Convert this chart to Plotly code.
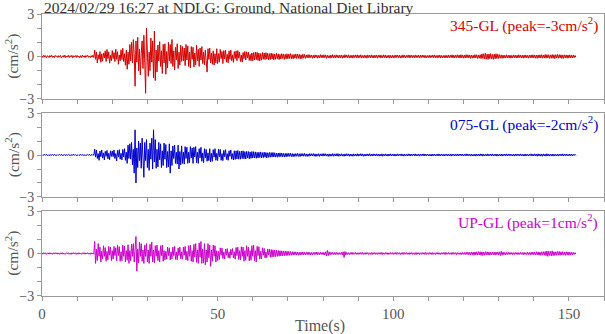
import plotly.graph_objects as go

DT = 0.25  # sampling interval (s)

ns_345 = [
 0.04,-0.07,0.09,-0.03,0.06,-0.1,0.05,0.02,-0.08,0.07,-0.04,0.09,-0.06,0.03,-0.09,0.08,-0.02,0.05,-0.07,0.06,
 -0.05,0.08,-0.09,0.04,0.07,-0.06,0.1,-0.08,0.03,-0.05,0.09,-0.07,0.06,-0.03,0.08,-0.1,0.05,-0.04,0.07,-0.06,
 0.08,-0.05,0.03,-0.09,0.06,-0.07,0.1,-0.04,0.05,-0.08,0.07,-0.02,0.09,-0.06,0.04,-0.08,0.06,-0.05,0.09,-0.07,
 0.45,-0.2,0.3,-0.46,0.12,-0.2,0.35,-0.41,0.18,-0.33,0.25,-0.1,0.4,-0.36,0.5,-0.15,0.33,-0.47,0.08,-0.3,
 0.42,-0.15,0.28,-0.36,0.52,-0.2,0.34,-0.55,0.1,-0.3,0.47,-0.22,0.58,-0.35,0.2,-0.62,0.45,-0.9,0.3,-0.55,
 0.85,-0.3,1.0,-0.45,1.2,0.2,-2.1,1.1,-0.4,1.35,-1.0,0.5,-1.3,0.2,1.1,-0.85,1.5,-0.4,-2.6,2.0,
 0.6,-1.4,0.3,-1.0,1.3,-0.4,1.1,-1.5,1.8,-1.7,0.45,-1.1,0.8,-0.3,1.05,-0.7,0.4,-1.2,0.85,-0.45,
 0.9,-1.25,0.35,-0.8,1.0,-0.3,0.85,-0.5,1.2,-0.7,0.4,-0.95,0.65,-0.25,0.9,-0.85,0.3,-0.6,0.8,-0.35,
 0.7,-0.3,0.6,-0.65,0.85,-0.25,0.75,-0.7,0.3,-0.8,0.7,-0.2,0.65,-0.75,0.25,-0.6,0.8,-0.3,0.5,-0.7,
 0.6,-0.25,0.7,-0.5,0.3,-0.6,0.45,-0.7,-1.1,0.55,-0.2,0.6,-0.45,0.25,-0.55,0.4,-0.6,0.2,-0.45,0.55,
 -0.5,0.2,-0.4,0.5,-0.15,0.35,-0.5,0.42,-0.18,0.45,-0.4,0.15,-0.45,0.4,-0.2,0.45,-0.3,0.12,-0.42,0.35,
 -0.15,0.4,-0.3,0.42,-0.12,0.3,-0.35,0.1,-0.4,0.28,-0.15,0.36,-0.25,0.33,-0.1,0.3,-0.28,0.15,-0.3,0.25,
 -0.3,0.28,-0.25,0.32,-0.22,0.3,-0.28,0.24,-0.3,0.2,-0.26,0.28,-0.2,0.25,-0.22,0.27,-0.18,0.24,-0.25,0.2,
 -0.22,0.25,-0.18,0.2,-0.24,0.17,-0.2,0.22,-0.16,0.19,-0.22,0.15,-0.18,0.2,-0.14,0.18,-0.2,0.15,-0.17,0.19,
 -0.16,0.18,-0.14,0.2,-0.15,0.13,-0.17,0.15,-0.12,0.18,-0.14,0.16,-0.13,0.15,-0.17,0.12,-0.14,0.16,-0.12,0.14,
 -0.13,0.11,-0.09,0.14,-0.1,0.12,-0.08,0.1,-0.13,0.09,-0.11,0.12,-0.07,0.1,-0.12,0.08,-0.1,0.13,-0.09,0.11,
 -0.1,0.12,-0.08,0.11,-0.13,0.09,-0.1,0.07,-0.12,0.1,-0.09,0.13,-0.11,0.08,-0.1,0.12,-0.08,0.09,-0.11,0.1,
 -0.09,0.11,-0.12,0.08,-0.1,0.13,-0.07,0.1,-0.09,0.12,-0.11,0.08,-0.1,0.09,-0.12,0.1,-0.08,0.11,-0.09,0.12,
 -0.11,0.09,-0.08,0.12,-0.1,0.07,-0.11,0.1,-0.09,0.08,-0.12,0.11,-0.07,0.09,-0.1,0.12,-0.09,0.08,-0.11,0.1,
 -0.08,0.1,-0.12,0.09,-0.07,0.11,-0.1,0.08,-0.09,0.12,-0.08,0.1,-0.11,0.07,-0.09,0.1,-0.12,0.08,-0.1,0.09,
 -0.1,0.08,-0.09,0.11,-0.07,0.1,-0.08,0.09,-0.11,0.07,-0.1,0.12,-0.08,0.09,-0.1,0.08,-0.07,0.11,-0.09,0.1,
 -0.09,0.1,-0.08,0.07,-0.1,0.11,-0.09,0.08,-0.07,0.1,-0.11,0.09,-0.08,0.1,-0.07,0.09,-0.1,0.08,-0.09,0.07,
 -0.08,0.09,-0.1,0.08,-0.07,0.1,-0.09,0.11,-0.08,0.07,-0.1,0.09,-0.08,0.1,-0.11,0.08,-0.09,0.07,-0.1,0.09,
 -0.1,0.08,-0.09,0.11,-0.1,0.09,-0.08,0.12,-0.1,0.09,-0.11,0.1,-0.08,0.12,-0.09,0.1,-0.11,0.13,-0.1,0.11,
 -0.12,0.1,-0.11,0.13,-0.09,0.12,-0.1,0.11,-0.13,0.1,-0.12,0.09,-0.11,0.13,-0.1,0.12,-0.14,0.11,-0.12,0.13,
 -0.15,0.18,-0.14,0.2,-0.17,0.22,-0.19,0.16,-0.21,0.18,-0.15,0.2,-0.18,0.14,-0.2,0.17,-0.16,0.19,-0.14,0.16,
 -0.14,0.13,-0.12,0.11,-0.13,0.1,-0.12,0.09,-0.11,0.12,-0.1,0.09,-0.11,0.1,-0.12,0.08,-0.1,0.11,-0.09,0.1,
 -0.11,0.09,-0.1,0.12,-0.08,0.1,-0.11,0.09,-0.12,0.1,-0.09,0.11,-0.1,0.08,-0.12,0.1,-0.09,0.11,-0.1,0.12,
 -0.1,0.11,-0.12,0.1,-0.13,0.11,-0.1,0.12,-0.11,0.13,-0.12,0.1,-0.11,0.14,-0.12,0.13,-0.1,0.12,-0.13,0.11,
 -0.12,0.14,-0.13,0.12,-0.15,0.13,-0.11,0.14,-0.12,0.13,-0.1,0.12,-0.14,0.11,-0.13,0.12,-0.1,0.11,-0.12,0.1,
 -0.11,0.12,-0.1,0.09,-0.11,0.1,-0.08,0.07,-0.05,
]

ew_075 = [
 0.03,-0.04,0.02,0.04,-0.03,0.05,-0.02,-0.04,0.03,-0.05,0.04,-0.02,0.03,-0.04,0.05,-0.03,0.02,-0.04,0.03,-0.02,
 0.04,-0.03,0.05,-0.04,0.02,-0.03,0.04,-0.05,0.03,-0.02,0.04,-0.03,0.02,-0.05,0.04,-0.03,0.05,-0.02,0.03,-0.04,
 0.02,-0.04,0.03,-0.03,0.05,-0.02,0.04,-0.04,0.03,-0.05,0.02,-0.03,0.04,-0.02,0.05,-0.04,0.03,-0.03,0.04,-0.02,
 0.42,-0.15,0.35,-0.25,0.1,-0.38,0.28,-0.12,0.36,-0.22,0.15,-0.35,0.26,-0.1,0.33,-0.28,0.12,-0.34,0.3,-0.1,
 0.28,-0.12,0.36,-0.25,0.1,-0.42,0.33,-0.15,0.38,-0.3,0.12,-0.35,0.4,-0.15,0.45,-0.38,0.2,-0.6,0.7,-0.25,
 0.8,-0.3,0.9,-0.7,0.4,-1.3,1.8,-2.0,0.5,-0.9,1.0,-0.4,0.85,-0.95,1.2,-0.3,-1.6,0.9,-0.4,1.1,
 -0.9,0.4,-1.1,0.85,-0.3,1.2,-1.0,1.8,-0.5,1.1,-0.95,0.4,-0.85,0.9,-0.35,0.8,-0.9,0.3,-0.75,0.85,
 -0.3,0.75,-0.9,0.25,-0.85,0.8,-1.3,0.3,-0.75,0.65,-0.25,0.7,-0.6,0.2,-0.65,0.7,-1.0,0.25,-0.7,0.65,
 -0.6,0.2,-0.65,0.6,-0.25,0.55,-0.6,0.2,-0.55,0.6,-0.2,0.5,-0.6,0.55,-0.15,0.6,-0.55,0.2,-0.6,0.45,
 -0.2,0.55,-0.45,0.15,-0.55,0.45,-0.2,0.4,-0.45,0.15,-0.4,0.45,-0.5,0.12,-0.45,0.38,-0.15,0.45,-0.38,0.12,
 -0.4,0.42,-0.12,0.4,-0.38,0.1,-0.4,0.33,-0.12,0.38,-0.32,0.1,-0.38,0.3,-0.1,0.36,-0.3,0.1,-0.35,0.3,
 -0.32,0.3,-0.28,0.32,-0.3,0.26,-0.3,0.28,-0.25,0.3,-0.27,0.24,-0.28,0.26,-0.22,0.25,-0.27,0.22,-0.24,0.25,
 -0.22,0.24,-0.2,0.22,-0.23,0.19,-0.21,0.2,-0.18,0.22,-0.2,0.17,-0.19,0.2,-0.16,0.18,-0.2,0.16,-0.17,0.18,
 -0.16,0.17,-0.15,0.18,-0.14,0.16,-0.15,0.13,-0.16,0.14,-0.13,0.15,-0.12,0.14,-0.13,0.12,-0.14,0.11,-0.13,0.12,
 -0.11,0.12,-0.1,0.12,-0.11,0.1,-0.12,0.09,-0.11,0.1,-0.09,0.11,-0.1,0.09,-0.11,0.1,-0.08,0.1,-0.09,0.11,
 -0.09,0.08,-0.1,0.07,-0.09,0.1,-0.08,0.09,-0.07,0.1,-0.09,0.08,-0.1,0.07,-0.08,0.09,-0.1,0.08,-0.07,0.09,
 -0.08,0.1,-0.07,0.09,-0.08,0.07,-0.1,0.08,-0.09,0.07,-0.08,0.1,-0.09,0.08,-0.07,0.09,-0.08,0.1,-0.09,0.07,
 -0.07,0.09,-0.08,0.06,-0.09,0.08,-0.07,0.09,-0.06,0.08,-0.09,0.07,-0.08,0.06,-0.09,0.08,-0.07,0.06,-0.08,0.09,
 -0.08,0.07,-0.06,0.09,-0.07,0.08,-0.09,0.06,-0.08,0.07,-0.06,0.08,-0.07,0.09,-0.08,0.06,-0.07,0.08,-0.06,0.07,
 -0.07,0.08,-0.06,0.07,-0.08,0.06,-0.07,0.08,-0.09,0.07,-0.06,0.08,-0.07,0.06,-0.08,0.07,-0.06,0.08,-0.07,0.06,
 -0.06,0.07,-0.08,0.06,-0.07,0.08,-0.06,0.07,-0.05,0.08,-0.07,0.06,-0.08,0.07,-0.06,0.05,-0.07,0.08,-0.06,0.07,
 -0.07,0.06,-0.05,0.07,-0.06,0.08,-0.07,0.05,-0.06,0.07,-0.08,0.06,-0.05,0.07,-0.06,0.08,-0.07,0.06,-0.05,0.07,
 -0.06,0.05,-0.07,0.06,-0.08,0.07,-0.05,0.06,-0.07,0.05,-0.06,0.08,-0.07,0.06,-0.05,0.07,-0.06,0.05,-0.07,0.06,
 -0.05,0.07,-0.06,0.05,-0.07,0.06,-0.08,0.07,-0.05,0.06,-0.07,0.05,-0.06,0.08,-0.07,0.06,-0.05,0.07,-0.06,0.05,
 -0.07,0.06,-0.05,0.08,-0.06,0.07,-0.05,0.06,-0.08,0.07,-0.06,0.05,-0.07,0.06,-0.08,0.07,-0.06,0.05,-0.07,0.08,
 -0.06,0.07,-0.08,0.06,-0.07,0.05,-0.06,0.08,-0.07,0.06,-0.05,0.07,-0.06,0.08,-0.07,0.05,-0.06,0.07,-0.08,0.06,
 -0.07,0.05,-0.06,0.07,-0.08,0.06,-0.05,0.07,-0.06,0.08,-0.07,0.06,-0.05,0.07,-0.06,0.05,-0.07,0.06,-0.08,0.07,
 -0.06,0.07,-0.05,0.06,-0.07,0.08,-0.06,0.05,-0.07,0.06,-0.08,0.07,-0.06,0.05,-0.07,0.06,-0.05,0.08,-0.07,0.06,
 -0.07,0.08,-0.06,0.07,-0.09,0.08,-0.07,0.06,-0.08,0.07,-0.09,0.08,-0.07,0.06,-0.08,0.09,-0.07,0.06,-0.08,0.07,
 -0.06,0.07,-0.08,0.06,-0.07,0.05,-0.06,0.07,-0.08,0.06,-0.05,0.07,-0.06,0.08,-0.07,0.06,-0.05,0.07,-0.06,0.05,
 -0.06,0.07,-0.05,0.06,-0.07,0.05,-0.04,0.05,-0.03,
]

up_gl = [
 0.04,-0.05,0.06,-0.03,0.05,-0.06,0.02,0.04,-0.05,0.06,-0.04,0.03,-0.06,0.05,-0.04,0.06,-0.03,0.05,-0.05,0.04,
 -0.06,0.05,-0.04,0.06,-0.05,0.03,-0.06,0.04,0.05,-0.04,0.06,-0.05,0.03,-0.06,0.05,-0.04,0.06,-0.03,0.05,-0.06,
 0.04,-0.05,0.06,-0.04,0.03,-0.06,0.05,-0.04,0.06,-0.05,0.04,-0.03,0.06,-0.05,0.04,-0.06,0.05,-0.04,0.03,-0.05,
 0.85,-0.7,0.3,-0.5,0.7,-0.2,0.45,-0.6,0.15,-0.4,0.55,-0.2,0.42,-0.55,0.15,-0.45,0.5,-0.12,0.45,-0.5,
 0.2,-0.4,0.5,-0.15,0.4,-0.52,0.58,-0.15,0.48,-0.55,0.12,-0.5,0.6,-0.2,0.52,-0.6,0.2,-0.48,0.62,-0.7,
 0.2,-0.5,0.65,-0.2,0.7,-0.6,0.2,1.2,-1.25,0.3,-0.65,0.8,-0.2,0.7,-0.55,0.25,-0.7,0.6,-0.2,0.7,
 -0.6,0.25,-0.7,0.65,-0.2,0.8,-0.6,0.25,-0.65,0.55,-0.2,0.6,-0.5,0.2,-0.6,0.55,-0.15,0.6,-0.55,0.2,
 -0.45,0.15,-0.4,0.45,-0.15,0.4,-0.45,0.12,-0.38,0.45,-0.15,0.5,-0.42,0.12,-0.45,0.38,-0.15,0.45,-0.38,0.12,
 -0.4,0.45,-0.12,0.5,-0.45,0.15,-0.5,0.55,-0.2,0.6,-0.55,0.2,-0.6,0.65,-0.25,0.7,-0.62,0.25,-0.7,0.75,
 -0.25,0.85,-0.7,0.3,-0.65,0.7,-0.8,0.25,-0.6,0.7,-0.3,0.6,-0.9,0.25,-0.55,0.6,-0.2,0.55,-0.6,0.2,
 -0.5,0.15,-0.42,0.4,-0.12,0.38,-0.35,0.1,-0.38,0.32,-0.12,0.35,-0.3,0.1,-0.34,0.3,-0.1,0.35,-0.32,0.12,
 -0.4,0.42,-0.15,0.45,-0.42,0.2,-0.45,0.48,-0.2,0.45,-0.55,0.2,-0.48,0.55,-0.2,0.45,-0.52,0.2,-0.48,0.55,
 -0.2,0.6,-0.5,0.2,-0.6,0.5,-0.15,0.48,-0.4,0.15,-0.38,0.4,-0.12,0.36,-0.32,0.1,-0.3,0.32,-0.1,0.3,
 -0.27,0.28,-0.25,0.26,-0.23,0.24,-0.22,0.23,-0.2,0.21,-0.19,0.2,-0.18,0.19,-0.17,0.18,-0.16,0.17,-0.15,0.16,
 -0.14,0.15,-0.13,0.14,-0.12,0.13,-0.11,0.12,-0.1,0.12,-0.11,0.1,-0.12,0.09,-0.11,0.1,-0.09,0.11,-0.1,0.09,
 -0.1,0.09,-0.08,0.1,-0.09,0.08,-0.1,0.07,-0.09,0.08,-0.07,0.09,-0.08,0.1,-0.09,0.07,-0.08,0.09,-0.07,0.08,
 -0.09,0.08,-0.1,0.12,-0.18,0.22,-0.15,0.12,-0.09,0.08,-0.07,0.09,-0.08,0.07,-0.09,0.08,-0.07,0.06,-0.08,0.07,
 -0.06,0.08,-0.1,0.12,-0.28,0.14,-0.1,0.08,-0.07,0.06,-0.08,0.07,-0.06,0.08,-0.07,0.06,-0.05,0.07,-0.06,0.05,
 -0.07,0.06,-0.05,0.07,-0.06,0.08,-0.07,0.05,-0.06,0.07,-0.05,0.06,-0.07,0.05,-0.06,0.07,-0.08,0.06,-0.05,0.07,
 -0.06,0.05,-0.07,0.06,-0.05,0.07,-0.06,0.08,-0.07,0.05,-0.06,0.07,-0.05,0.06,-0.07,0.05,-0.06,0.07,-0.05,0.06,
 -0.07,0.06,-0.05,0.08,-0.06,0.07,-0.05,0.06,-0.07,0.05,-0.06,0.08,-0.07,0.06,-0.05,0.07,-0.06,0.05,-0.07,0.06,
 -0.05,0.07,-0.06,0.05,-0.07,0.06,-0.08,0.07,-0.05,0.06,-0.07,0.05,-0.06,0.07,-0.05,0.06,-0.07,0.08,-0.06,0.05,
 -0.06,0.07,-0.05,0.06,-0.08,0.07,-0.06,0.05,-0.07,0.06,-0.05,0.07,-0.06,0.05,-0.07,0.06,-0.05,0.07,-0.06,0.08,
 -0.07,0.06,-0.05,0.07,-0.06,0.05,-0.07,0.08,-0.06,0.07,-0.05,0.06,-0.08,0.07,-0.06,0.05,-0.07,0.06,-0.08,0.07,
 -0.06,0.07,-0.08,0.09,-0.07,0.1,-0.09,0.08,-0.1,0.11,-0.09,0.1,-0.12,0.11,-0.1,0.12,-0.11,0.13,-0.1,0.12,
 -0.13,0.12,-0.14,0.11,-0.12,0.13,-0.1,0.12,-0.11,0.1,-0.12,0.09,-0.1,0.11,-0.09,0.1,-0.12,0.1,-0.09,0.11,
 -0.1,0.12,-0.14,0.15,-0.12,0.1,-0.09,0.08,-0.1,0.07,-0.08,0.09,-0.07,0.08,-0.06,0.07,-0.08,0.06,-0.07,0.08,
 -0.06,0.07,-0.08,0.06,-0.07,0.08,-0.06,0.07,-0.09,0.08,-0.07,0.06,-0.08,0.09,-0.07,0.08,-0.1,0.09,-0.08,0.1,
 -0.09,0.1,-0.11,0.12,-0.1,0.11,-0.12,0.1,-0.13,0.12,-0.11,0.13,-0.12,0.14,-0.16,0.18,-0.2,0.16,-0.14,0.15,
 -0.17,0.19,-0.15,0.13,-0.14,0.12,-0.13,0.15,-0.12,0.14,-0.13,0.12,-0.11,0.13,-0.12,0.11,-0.13,0.12,-0.1,0.11,
 -0.12,0.1,-0.11,0.09,-0.1,0.08,-0.07,0.06,-0.04,
]

series = [ns_345, ew_075, up_gl]
labels = ["345-GL (peak=-3cm/s<sup>2</sup>)", "075-GL (peak=-2cm/s<sup>2</sup>)", "UP-GL (peak=1cm/s<sup>2</sup>)"]
colors = ["#d40000", "#0000cc", "#cc00cc"]
title = "2024/02/29 16:27 at NDLG: Ground, National Diet Library"
y_title = "(cm/s<sup>2</sup>)"
x_title = "Time(s)"

FONT = "Liberation Serif, Times New Roman, serif"
GRAY = "#555555"
LINE = "#999999"

domains = [[0.6986, 1.0], [0.3511, 0.6489], [0.0, 0.3014]]

fig = go.Figure()
for i, (vals, col) in enumerate(zip(series, colors)):
    t = [k * DT for k in range(len(vals))]
    ax = "" if i == 0 else str(i + 1)
    fig.add_trace(go.Scatter(x=t, y=vals, mode="lines", line=dict(color=col, width=1),
                             xaxis="x" + ax, yaxis="y" + ax, showlegend=False, hoverinfo="skip"))

layout = dict(
    width=605, height=334,
    margin=dict(l=42, r=1, t=14, b=38),
    paper_bgcolor="white", plot_bgcolor="white",
    font=dict(family=FONT, color=GRAY, size=14),
    annotations=[],
)
for i in range(3):
    ax = "" if i == 0 else str(i + 1)
    xa = dict(range=[0, 160], domain=[0, 1], anchor="y" + ax,
              showline=True, mirror=True, linecolor=LINE, linewidth=1,
              ticks="outside", ticklen=4, tickcolor=LINE,
              tick0=0, dtick=50, showticklabels=(i == 2),
              minor=dict(ticks="outside", dtick=10, ticklen=4, tickcolor=LINE, showgrid=False),
              showgrid=False, zeroline=False,
              tickfont=dict(family=FONT, size=15, color=GRAY))
    ya = dict(range=[-3, 3], domain=domains[i], anchor="x" + ax,
              showline=True, mirror=True, linecolor=LINE, linewidth=1,
              ticks="outside", ticklen=4, tickcolor=LINE,
              tick0=-3, dtick=3,
              minor=dict(ticks="outside", dtick=1, ticklen=4, tickcolor=LINE, showgrid=False),
              showgrid=False, zeroline=False,
              tickfont=dict(family=FONT, size=14, color=GRAY))
    layout["xaxis" + ax] = xa
    layout["yaxis" + ax] = ya
    layout["annotations"].append(dict(
        text=labels[i], xref="x" + ax + " domain", yref="y" + ax + " domain",
        x=0.993, y=0.88, xanchor="right", yanchor="middle", showarrow=False,
        font=dict(family=FONT, size=15.5, color=colors[i])))
    layout["annotations"].append(dict(
        text=y_title, xref="paper", yref="y" + ax + " domain",
        x=-0.053, y=0.5, xanchor="center", yanchor="middle", textangle=-90,
        showarrow=False, font=dict(family=FONT, size=15.5, color=GRAY)))

layout["annotations"].append(dict(
    text=title, xref="paper", yref="paper", x=0.0, y=1.0 + 6.5 / 282,
    xanchor="left", yanchor="middle", showarrow=False,
    font=dict(family=FONT, size=15.5, color="#333333")))
layout["annotations"].append(dict(
    text=x_title, xref="paper", yref="paper", x=0.495, y=-0.106,
    xanchor="center", yanchor="middle", showarrow=False,
    font=dict(family=FONT, size=16, color=GRAY)))

fig.update_layout(**layout)
fig.write_html("out.html", config={"displayModeBar": False},
               post_script="document.body.style.margin='0';")
